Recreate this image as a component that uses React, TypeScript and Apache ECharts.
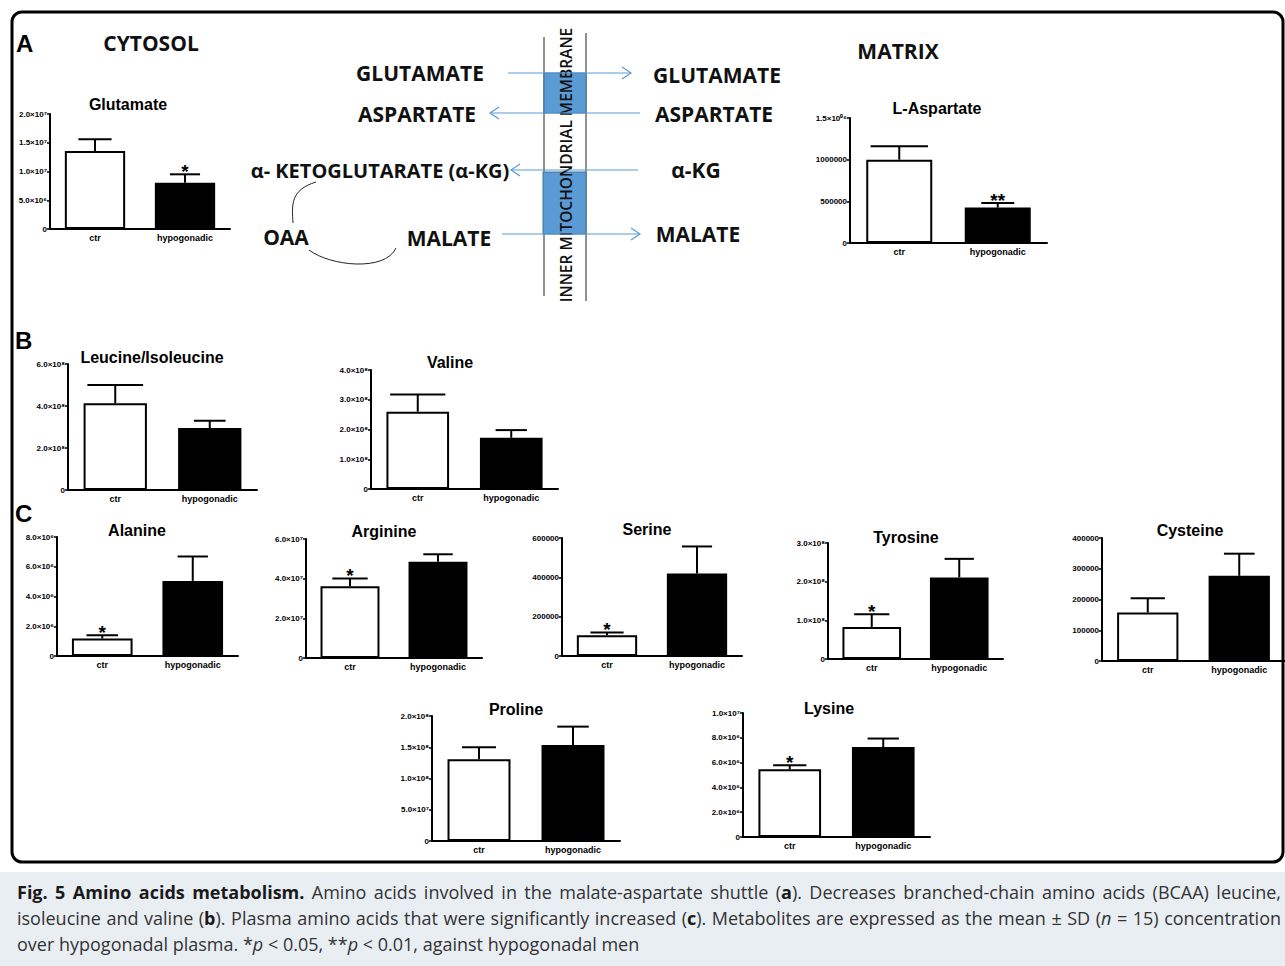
import React, { useEffect, useRef } from 'react';
import * as echarts from 'echarts';

const W = 1285;
const H = 966;
const FONT = '"Liberation Sans", Arial, sans-serif';
const DFONT = '"Open Sans", sans-serif';

// ---------- DATA ----------
const categories = ['ctr', 'hypogonadic'];
const barFill = ['#ffffff', '#000000'];

const glutamateMean = [1.357e7, 0.805e7];
const glutamateSD = [0.203e7, 0.146e7];
const glutamateSig = ['', '*'];
const glutamateTicks = ['0', '5.0×10⁶', '1.0×10⁷', '1.5×10⁷', '2.0×10⁷'];

const aspartateMean = [1.0e6, 0.425e6];
const aspartateSD = [0.16e6, 0.055e6];
const aspartateSig = ['', '**'];
const aspartateTicks = ['0', '500000', '1000000', '1.5×10⁰⁶'];

const leucineMean = [4.13e8, 2.95e8];
const leucineSD = [0.87e8, 0.35e8];
const leucineSig = ['', ''];
const leucineTicks = ['0', '2.0×10⁸', '4.0×10⁸', '6.0×10⁸'];

const valineMean = [2.6e8, 1.72e8];
const valineSD = [0.58e8, 0.26e8];
const valineSig = ['', ''];
const valineTicks = ['0', '1.0×10⁸', '2.0×10⁸', '3.0×10⁸', '4.0×10⁸'];

const alanineMean = [1.18e6, 5.05e6];
const alanineSD = [0.22e6, 1.64e6];
const alanineSig = ['*', ''];
const alanineTicks = ['0', '2.0×10⁶', '4.0×10⁶', '6.0×10⁶', '8.0×10⁶'];

const arginineMean = [3.62e7, 4.85e7];
const arginineSD = [0.39e7, 0.38e7];
const arginineSig = ['*', ''];
const arginineTicks = ['0', '2.0×10⁷', '4.0×10⁷', '6.0×10⁷'];

const serineMean = [1.06e5, 4.19e5];
const serineSD = [0.14e5, 1.38e5];
const serineSig = ['*', ''];
const serineTicks = ['0', '200000', '400000', '600000'];

const tyrosineMean = [0.83e8, 2.11e8];
const tyrosineSD = [0.33e8, 0.48e8];
const tyrosineSig = ['*', ''];
const tyrosineTicks = ['0', '1.0×10⁸', '2.0×10⁸', '3.0×10⁸'];

const cysteineMean = [1.575e5, 2.77e5];
const cysteineSD = [0.465e5, 0.72e5];
const cysteineSig = ['', ''];
const cysteineTicks = ['0', '100000', '200000', '300000', '400000'];

const prolineMean = [1.31e8, 1.535e8];
const prolineSD = [0.19e8, 0.295e8];
const prolineSig = ['', ''];
const prolineTicks = ['0', '5.0×10⁷', '1.0×10⁸', '1.5×10⁸', '2.0×10⁸'];

const lysineMean = [5.46e6, 7.26e6];
const lysineSD = [0.32e6, 0.68e6];
const lysineSig = ['*', ''];
const lysineTicks = ['0', '2.0×10⁶', '4.0×10⁶', '6.0×10⁶', '8.0×10⁶', '1.0×10⁷'];

// caption: segments of [text, style] ; style '' plain, 'b' bold, 'i' italic
const captionLine1 = [['Fig. 5 Amino acids metabolism.', 'b'], [' Amino acids involved in the malate-aspartate shuttle (', ''], ['a', 'b'], ['). Decreases branched-chain amino acids (BCAA) leucine,', '']];
const captionLine2 = [['isoleucine and valine (', ''], ['b', 'b'], ['). Plasma amino acids that were significantly increased (', ''], ['c', 'b'], ['). Metabolites are expressed as the mean ± SD (', ''], ['n', 'i'], [' = 15) concentration', '']];
const captionLine3 = [['over hypogonadal plasma. *', ''], ['p', 'i'], [' < 0.05, **', ''], ['p', 'i'], [' < 0.01, against hypogonadal men', '']];

// ---------- LAYOUT ----------
const panels = [
  { title: 'Glutamate', mean: glutamateMean, sd: glutamateSD, sig: glutamateSig, ticks: glutamateTicks, max: 2e7, interval: 5e6, left: 50, top: 114, width: 180, height: 115, tx: 128, ty: 104, cap: [0.55, 0.5] },
  { title: 'L-Aspartate', mean: aspartateMean, sd: aspartateSD, sig: aspartateSig, ticks: aspartateTicks, max: 1.5e6, interval: 5e5, left: 850, top: 118, width: 197, height: 125, tx: 937, ty: 108, cap: [0.87, 0.5] },
  { title: 'Leucine/Isoleucine', mean: leucineMean, sd: leucineSD, sig: leucineSig, ticks: leucineTicks, max: 6e8, interval: 2e8, left: 68, top: 364, width: 189, height: 126, tx: 152, ty: 357, cap: [0.88, 0.5] },
  { title: 'Valine', mean: valineMean, sd: valineSD, sig: valineSig, ticks: valineTicks, max: 4e8, interval: 1e8, left: 371, top: 370, width: 187, height: 119, tx: 450, ty: 362, cap: [0.88, 0.5] },
  { title: 'Alanine', mean: alanineMean, sd: alanineSD, sig: alanineSig, ticks: alanineTicks, max: 8e6, interval: 2e6, left: 57, top: 537, width: 181, height: 119, tx: 137, ty: 530, cap: [0.52, 0.5] },
  { title: 'Arginine', mean: arginineMean, sd: arginineSD, sig: arginineSig, ticks: arginineTicks, max: 6e7, interval: 2e7, left: 306, top: 539, width: 176, height: 119, tx: 384, ty: 531, cap: [0.6, 0.5] },
  { title: 'Serine', mean: serineMean, sd: serineSD, sig: serineSig, ticks: serineTicks, max: 6e5, interval: 2e5, left: 562, top: 538, width: 180, height: 118, tx: 647, ty: 529, cap: [0.55, 0.5] },
  { title: 'Tyrosine', mean: tyrosineMean, sd: tyrosineSD, sig: tyrosineSig, ticks: tyrosineTicks, max: 3e8, interval: 1e8, left: 828, top: 543, width: 175, height: 116, tx: 906, ty: 537, cap: [0.6, 0.5] },
  { title: 'Cysteine', mean: cysteineMean, sd: cysteineSD, sig: cysteineSig, ticks: cysteineTicks, max: 4e5, interval: 1e5, left: 1102, top: 538, width: 183, height: 123, tx: 1190, ty: 530, cap: [0.56, 0.5] },
  { title: 'Proline', mean: prolineMean, sd: prolineSD, sig: prolineSig, ticks: prolineTicks, max: 2e8, interval: 5e7, left: 432, top: 716, width: 188, height: 125, tx: 516, ty: 709, cap: [0.54, 0.5] },
  { title: 'Lysine', mean: lysineMean, sd: lysineSD, sig: lysineSig, ticks: lysineTicks, max: 1e7, interval: 2e6, left: 743, top: 713, width: 187, height: 124, tx: 829, ty: 708, cap: [0.53, 0.5] },
];

const BAR_FRAC = 0.67;
const CAP_SIZE = 18;
const CAP_LEFT = 17;
const CAP_RIGHT = 1281;

function makeErr(p: any) {
  return (params: any, api: any) => {
    const i = api.value(0);
    const m = api.value(1);
    const s = api.value(2);
    const base = api.coord([i, m]);
    const top = api.coord([i, m + s]);
    const band = api.size([1, 0])[0];
    const half = (band * BAR_FRAC * p.cap[params.dataIndex]) / 2;
    const children: any[] = [
      { type: 'line', shape: { x1: base[0], y1: base[1], x2: top[0], y2: top[1] }, style: { stroke: '#000', lineWidth: 2 } },
      { type: 'line', shape: { x1: top[0] - half, y1: top[1], x2: top[0] + half, y2: top[1] }, style: { stroke: '#000', lineWidth: 2 } },
    ];
    const sig = p.sig[params.dataIndex];
    if (sig) {
      children.push({
        type: 'text',
        x: top[0],
        y: top[1] - 3,
        style: { text: sig, textAlign: 'center', textVerticalAlign: 'middle', fontFamily: FONT, fontWeight: 'bold', fontSize: 19, fill: '#000' },
      });
    }
    return { type: 'group', children };
  };
}

function arrow(x1: number, x2: number, y: number): any[] {
  const d = x2 > x1 ? 1 : -1;
  const c = '#5b9bd5';
  return [
    { type: 'line', shape: { x1, y1: y, x2, y2: y }, style: { stroke: c, lineWidth: 1.2 } },
    { type: 'polyline', shape: { points: [[x2 - d * 9, y - 6], [x2, y], [x2 - d * 9, y + 6]] }, style: { stroke: c, lineWidth: 1.2, fill: 'none' } },
  ];
}

function dtext(text: string, x: number, y: number, size = 21): any {
  return { type: 'text', x, y, style: { text, textAlign: 'center', textVerticalAlign: 'middle', fontFamily: DFONT, fontWeight: 'bold', fontSize: size, fill: '#111' } };
}

let measureCtx: CanvasRenderingContext2D | null = null;
function measure(text: string, st: string): number {
  if (!measureCtx) measureCtx = document.createElement('canvas').getContext('2d');
  const ctx = measureCtx!;
  const weight = st === 'b' ? 'bold ' : '';
  const ital = st === 'i' ? 'italic ' : '';
  ctx.font = `${ital}${weight}${CAP_SIZE}px "Open Sans"`;
  return ctx.measureText(text).width;
}

function captionElements(segs: string[][], y: number, justify: boolean): any[] {
  // split into words, each word = list of [text, style]
  const words: string[][][] = [];
  let cur: string[][] = [];
  segs.forEach(([t, st]) => {
    const parts = t.split(' ');
    parts.forEach((part, idx) => {
      if (idx > 0) {
        if (cur.length) words.push(cur);
        cur = [];
      }
      if (part.length) cur.push([part, st]);
    });
  });
  if (cur.length) words.push(cur);
  const widths = words.map((w) => w.reduce((s, [t, st]) => s + measure(t, st), 0));
  const total = widths.reduce((a, b) => a + b, 0);
  const space = measure(' ', '');
  const gap = justify && words.length > 1 ? (CAP_RIGHT - CAP_LEFT - total) / (words.length - 1) : space;
  const rich = {
    b: { fontFamily: DFONT, fontSize: CAP_SIZE, fontWeight: 'bold', fill: '#1a1a1a' },
    i: { fontFamily: DFONT, fontSize: CAP_SIZE, fontStyle: 'italic', fill: '#333' },
  };
  const out: any[] = [];
  let x = CAP_LEFT;
  words.forEach((w, k) => {
    const text = w.map(([t, st]) => (st ? `{${st}|${t}}` : t)).join('');
    out.push({ type: 'text', x, y, style: { text, rich, textVerticalAlign: 'middle', fontFamily: DFONT, fontSize: CAP_SIZE, fill: '#333' } });
    x += widths[k] + gap;
  });
  return out;
}

function buildOption() {
  const grid: any[] = [];
  const xAxis: any[] = [];
  const yAxis: any[] = [];
  const series: any[] = [];
  const graphic: any[] = [];

  // frame
  graphic.push({ type: 'rect', shape: { x: 12, y: 12, width: 1271, height: 850, r: 10 }, style: { fill: 'none', stroke: '#000', lineWidth: 3 }, z: -1 });

  panels.forEach((p, k) => {
    grid.push({ left: p.left, top: p.top, width: p.width, height: p.height });
    xAxis.push({
      type: 'category', gridIndex: k, data: categories,
      axisLine: { lineStyle: { color: '#000', width: 2 } },
      axisTick: { show: false },
      axisLabel: { color: '#000', fontFamily: FONT, fontWeight: 'bold', fontSize: 9, margin: 4 },
      splitLine: { show: false },
    });
    yAxis.push({
      type: 'value', gridIndex: k, min: 0, max: p.max, interval: p.interval,
      axisLine: { show: true, lineStyle: { color: '#000', width: 2 } },
      axisTick: { show: true, length: 3, lineStyle: { color: '#000', width: 1.5 } },
      splitLine: { show: false },
      axisLabel: { color: '#000', fontFamily: FONT, fontWeight: 'bold', fontSize: 8, margin: 3, formatter: (v: number) => p.ticks[Math.round(v / p.interval)] ?? '' },
    });
    series.push({
      type: 'bar', xAxisIndex: k, yAxisIndex: k, barWidth: BAR_FRAC * 100 + '%', silent: true,
      data: p.mean.map((m, i) => ({ value: m, itemStyle: { color: barFill[i], borderColor: '#000', borderWidth: 2 } })),
    });
    series.push({
      type: 'custom', xAxisIndex: k, yAxisIndex: k, silent: true, z: 3,
      data: p.mean.map((m, i) => [i, m, p.sd[i]]),
      renderItem: makeErr(p),
    });
    graphic.push({ type: 'text', x: p.tx, y: p.ty, style: { text: p.title, textAlign: 'center', textVerticalAlign: 'middle', fontFamily: FONT, fontWeight: 'bold', fontSize: 16, fill: '#000' } });
  });

  // section labels
  graphic.push({ type: 'text', x: 16, y: 43, style: { text: 'A', textVerticalAlign: 'middle', fontFamily: FONT, fontWeight: 'bold', fontSize: 24, fill: '#000' } });
  graphic.push({ type: 'text', x: 15, y: 340, style: { text: 'B', textVerticalAlign: 'middle', fontFamily: FONT, fontWeight: 'bold', fontSize: 24, fill: '#000' } });
  graphic.push({ type: 'text', x: 15, y: 513, style: { text: 'C', textVerticalAlign: 'middle', fontFamily: FONT, fontWeight: 'bold', fontSize: 24, fill: '#000' } });
  graphic.push(dtext('CYTOSOL', 151, 43, 21));
  graphic.push(dtext('MATRIX', 898, 51, 21));

  // membrane diagram
  graphic.push({ type: 'line', shape: { x1: 544, y1: 37, x2: 544, y2: 296 }, style: { stroke: '#222', lineWidth: 1 } });
  graphic.push({ type: 'line', shape: { x1: 586, y1: 33, x2: 586, y2: 301 }, style: { stroke: '#222', lineWidth: 1 } });
  graphic.push({ type: 'rect', shape: { x: 544, y: 73, width: 42, height: 40 }, style: { fill: '#5b9bd5', stroke: '#41719c', lineWidth: 1 } });
  graphic.push({ type: 'rect', shape: { x: 543, y: 172, width: 43, height: 62 }, style: { fill: '#5b9bd5', stroke: '#41719c', lineWidth: 1 } });
  graphic.push({ type: 'text', x: 566, y: 165, rotation: Math.PI / 2, style: { text: 'INNER MITOCHONDRIAL MEMBRANE', textAlign: 'center', textVerticalAlign: 'middle', fontFamily: DFONT, fontWeight: 600, fontSize: 15.5, fill: '#111' } });

  graphic.push(dtext('GLUTAMATE', 420, 73));
  graphic.push(dtext('ASPARTATE', 417, 114));
  graphic.push(dtext('α- KETOGLUTARATE (α-KG)', 380, 170, 20));
  graphic.push(dtext('OAA', 286, 237));
  graphic.push(dtext('MALATE', 449, 238));
  graphic.push(dtext('GLUTAMATE', 717, 75));
  graphic.push(dtext('ASPARTATE', 714, 114));
  graphic.push(dtext('α-KG', 696, 170));
  graphic.push(dtext('MALATE', 698, 234));

  arrow(508, 631, 73).forEach((g) => graphic.push(g));
  arrow(640, 490, 113).forEach((g) => graphic.push(g));
  arrow(638, 511, 170).forEach((g) => graphic.push(g));
  arrow(502, 640, 234).forEach((g) => graphic.push(g));

  graphic.push({ type: 'bezierCurve', shape: { x1: 316, y1: 182, cpx1: 290, cpy1: 190, cpx2: 292, cpy2: 205, x2: 293, y2: 223 }, style: { stroke: '#222', lineWidth: 1, fill: 'none' } });
  graphic.push({ type: 'bezierCurve', shape: { x1: 309, y1: 250, cpx1: 330, cpy1: 266, cpx2: 385, cpy2: 272, x2: 396, y2: 248 }, style: { stroke: '#222', lineWidth: 1, fill: 'none' } });

  // caption
  graphic.push({ type: 'rect', shape: { x: 0, y: 872, width: W, height: H - 872 }, style: { fill: '#e9eef3' }, z: -2 });
  captionElements(captionLine1, 892, true).forEach((g) => graphic.push(g));
  captionElements(captionLine2, 918, true).forEach((g) => graphic.push(g));
  captionElements(captionLine3, 944, false).forEach((g) => graphic.push(g));

  return {
    animation: false,
    backgroundColor: '#ffffff',
    grid, xAxis, yAxis, series, graphic,
  };
}

export default function App() {
  const ref = useRef<HTMLDivElement>(null);
  useEffect(() => {
    const chart = echarts.init(ref.current!, null, { renderer: 'svg', width: W, height: H });
    chart.setOption(buildOption() as any);
    return () => chart.dispose();
  }, []);
  return <div ref={ref} style={{ position: 'absolute', left: 0, top: 0, width: W, height: H, background: '#fff' }} />;
}
